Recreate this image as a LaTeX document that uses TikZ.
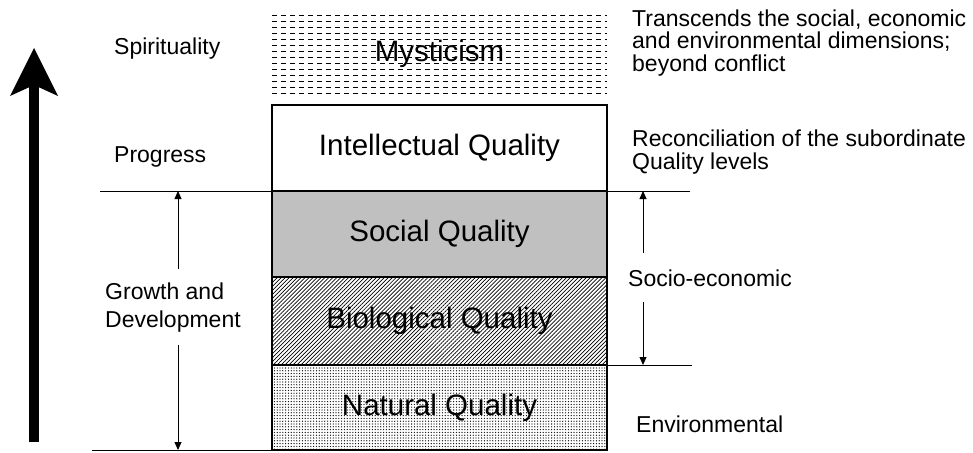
\documentclass[tikz,border=0pt]{standalone}
\usepackage{fontspec}
\setmainfont{Liberation Sans}
\usetikzlibrary{positioning,arrows.meta,patterns.meta}
\definecolor{colorsocial}{RGB}{192,192,192}
\newcommand{\remarksize}{\fontsize{23}{22.5}\selectfont}
\newcommand{\levelsize}{\fontsize{29.5}{30}\selectfont}

\begin{document}
\begin{tikzpicture}[
    x=1pt, y=-1pt,
    node distance = 0pt,
    level/.style={draw,line width=1.2pt,inner sep=0pt,outer sep=0pt,minimum width=335pt,minimum height=86pt,font=\levelsize},
    remark/.style={inner sep=0pt,align=left,font=\remarksize},
    rule/.style={line width=0.8pt},
    spanarrow/.style={line width=0.8pt,-{Triangle[length=8pt,width=7pt]}},
]
    \useasboundingbox (0,0) rectangle (973,452);

    % Mysticism (no frame, dashed rows)
    \foreach \y in {15,21,...,93}
        \draw[line width=0.8pt,dash pattern=on 5pt off 4pt] (272,\y) -- (607,\y);
    \node[font=\levelsize,inner sep=0pt] (mysticism) at (439.5,54) {Mysticism};

    % Quality levels
    \node[level] (intellectual) at (439.5,148) {Intellectual Quality};
    \node[level,fill=colorsocial,below=of intellectual] (social) {Social Quality};
    \node[level,minimum height=88pt,pattern={Lines[angle=45,distance=2.8pt,line width=0.7pt]},below=of social] (biological) {Biological Quality};
    \node[level,minimum height=85pt,pattern={Dots[distance=2.8pt,radius=0.65pt]},below=of biological] (natural) {Natural Quality};

    % Rules
    \coordinate (topleft)  at (100,191);
    \coordinate (topright) at (690,191);
    \coordinate (midright) at (692,365);
    \coordinate (baseleft) at (92,450);
    \draw[rule] (topleft) -- (topright);
    \draw[rule] (biological.south east) -- (midright);
    \draw[rule] (baseleft) -- (natural.south east);

    % Left side
    \coordinate (ascentbot) at (34,442);
    \coordinate (ascenttop) at (34,48);
    \draw[line width=10pt,-{Stealth[length=48pt,width=48pt,inset=11pt,line width=0pt]}] (ascentbot) -- (ascenttop);

    \node[remark,anchor=base west] (spirituality) at (114,55) {Spirituality};
    \node[remark,anchor=base west] (progress) at (114,162) {Progress};
    \node[remark,anchor=base west,inner ysep=13pt,font=\fontsize{23}{27.7}\selectfont] (growth) at (105,327) {Growth and\\Development};

    \coordinate (growthtop) at (178,191);
    \coordinate (growthbot) at (178,450);
    \draw[spanarrow] (growth.north -| growthtop) -- (growthtop);
    \draw[spanarrow] (growth.south -| growthbot) -- (growthbot);

    % Right side
    \node[remark,anchor=base west] (transcends) at (632,71) {Transcends the social, economic\\and environmental dimensions;\\beyond conflict};
    \node[remark,anchor=base west] (reconciliation) at (632,169) {Reconciliation of the subordinate\\Quality levels};
    \node[remark,anchor=base west,inner ysep=16pt] (socio) at (628,286) {Socio-economic};
    \node[remark,anchor=base west] (environmental) at (636,432) {Environmental};

    \coordinate (sociotop) at (643,191);
    \coordinate (sociobot) at (643,365);
    \draw[spanarrow] (socio.north -| sociotop) -- (sociotop);
    \draw[spanarrow] (socio.south -| sociobot) -- (sociobot);

\end{tikzpicture}
\end{document}
